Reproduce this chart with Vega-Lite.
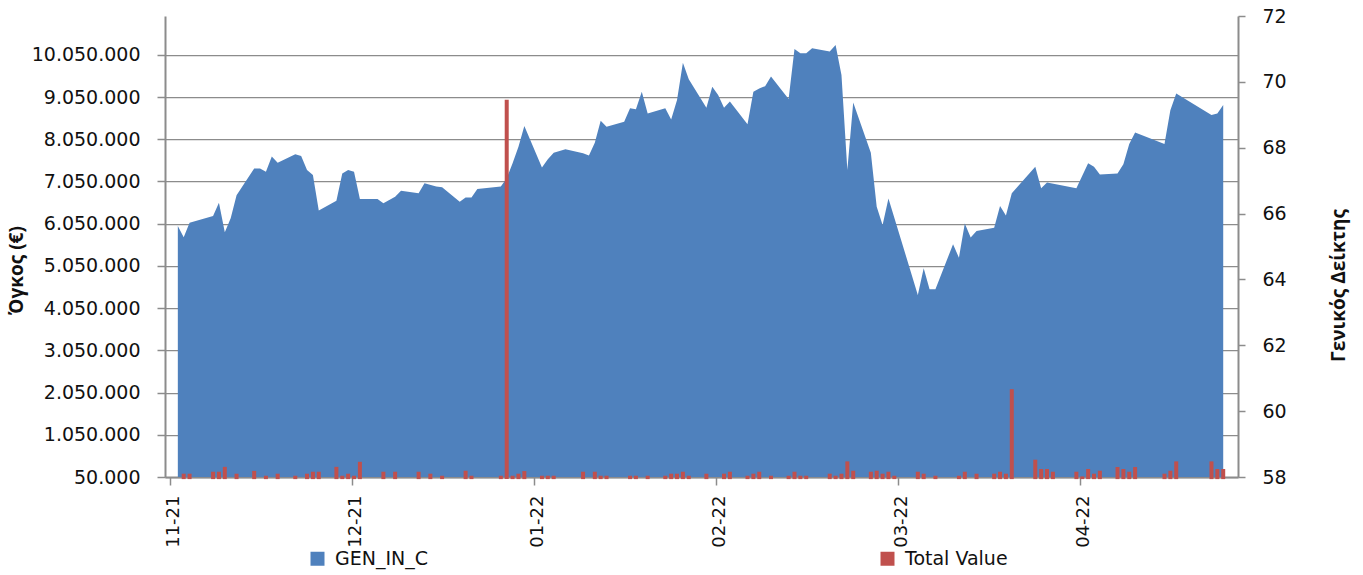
{
  "$schema": "https://vega.github.io/schema/vega-lite/v6.json",
  "width": 1073,
  "height": 461,
  "autosize": {"type": "none"},
  "padding": {"left": 165, "top": 16, "right": 125, "bottom": 98},
  "background": "white",
  "config": {
    "view": {"stroke": null},
    "locale": {"number": {"decimal": ",", "thousands": ".", "grouping": [3], "currency": ["", " €"]}},
    "font": "DejaVu Sans",
    "axis": {"labelFont": "DejaVu Sans", "labelColor": "#111111", "domainColor": "#8c8c8c", "tickColor": "#8c8c8c", "domainWidth": 2, "tickWidth": 1.5}
  },
  "data": {
    "format": {"parse": {"date": "utc:'%Y-%m-%d'"}},
    "values": [
      {"date": "2021-11-02", "GEN_IN_C": 65.62, "TotalValue": null},
      {"date": "2021-11-03", "GEN_IN_C": 65.28, "TotalValue": 128000},
      {"date": "2021-11-04", "GEN_IN_C": 65.72, "TotalValue": 128000},
      {"date": "2021-11-08", "GEN_IN_C": 65.93, "TotalValue": 175000},
      {"date": "2021-11-09", "GEN_IN_C": 66.33, "TotalValue": 175000},
      {"date": "2021-11-10", "GEN_IN_C": 65.43, "TotalValue": 290000},
      {"date": "2021-11-11", "GEN_IN_C": 65.86, "TotalValue": null},
      {"date": "2021-11-12", "GEN_IN_C": 66.56, "TotalValue": 128000},
      {"date": "2021-11-15", "GEN_IN_C": 67.37, "TotalValue": 195000},
      {"date": "2021-11-16", "GEN_IN_C": 67.37, "TotalValue": null},
      {"date": "2021-11-17", "GEN_IN_C": 67.27, "TotalValue": 80000},
      {"date": "2021-11-18", "GEN_IN_C": 67.73, "TotalValue": null},
      {"date": "2021-11-19", "GEN_IN_C": 67.54, "TotalValue": 128000},
      {"date": "2021-11-22", "GEN_IN_C": 67.80, "TotalValue": 80000},
      {"date": "2021-11-23", "GEN_IN_C": 67.75, "TotalValue": null},
      {"date": "2021-11-24", "GEN_IN_C": 67.32, "TotalValue": 128000},
      {"date": "2021-11-25", "GEN_IN_C": 67.17, "TotalValue": 175000},
      {"date": "2021-11-26", "GEN_IN_C": 66.09, "TotalValue": 175000},
      {"date": "2021-11-29", "GEN_IN_C": 66.39, "TotalValue": 290000},
      {"date": "2021-11-30", "GEN_IN_C": 67.22, "TotalValue": 80000},
      {"date": "2021-12-01", "GEN_IN_C": 67.32, "TotalValue": 128000},
      {"date": "2021-12-02", "GEN_IN_C": 67.27, "TotalValue": 80000},
      {"date": "2021-12-03", "GEN_IN_C": 66.44, "TotalValue": 410000},
      {"date": "2021-12-06", "GEN_IN_C": 66.44, "TotalValue": null},
      {"date": "2021-12-07", "GEN_IN_C": 66.31, "TotalValue": 175000},
      {"date": "2021-12-09", "GEN_IN_C": 66.51, "TotalValue": 175000},
      {"date": "2021-12-10", "GEN_IN_C": 66.69, "TotalValue": null},
      {"date": "2021-12-13", "GEN_IN_C": 66.62, "TotalValue": 175000},
      {"date": "2021-12-14", "GEN_IN_C": 66.92, "TotalValue": null},
      {"date": "2021-12-15", "GEN_IN_C": null, "TotalValue": 128000},
      {"date": "2021-12-16", "GEN_IN_C": 66.82, "TotalValue": null},
      {"date": "2021-12-17", "GEN_IN_C": 66.80, "TotalValue": 80000},
      {"date": "2021-12-20", "GEN_IN_C": 66.36, "TotalValue": null},
      {"date": "2021-12-21", "GEN_IN_C": 66.49, "TotalValue": 199000},
      {"date": "2021-12-22", "GEN_IN_C": 66.49, "TotalValue": 80000},
      {"date": "2021-12-23", "GEN_IN_C": 66.75, "TotalValue": null},
      {"date": "2021-12-27", "GEN_IN_C": 66.82, "TotalValue": 80000},
      {"date": "2021-12-28", "GEN_IN_C": 67.07, "TotalValue": 8986000},
      {"date": "2021-12-29", "GEN_IN_C": 67.53, "TotalValue": 80000},
      {"date": "2021-12-30", "GEN_IN_C": 68.03, "TotalValue": 128000},
      {"date": "2021-12-31", "GEN_IN_C": 68.66, "TotalValue": 190000},
      {"date": "2022-01-03", "GEN_IN_C": 67.40, "TotalValue": 80000},
      {"date": "2022-01-04", "GEN_IN_C": 67.65, "TotalValue": 80000},
      {"date": "2022-01-05", "GEN_IN_C": 67.85, "TotalValue": 80000},
      {"date": "2022-01-07", "GEN_IN_C": 67.95, "TotalValue": null},
      {"date": "2022-01-10", "GEN_IN_C": 67.83, "TotalValue": 175000},
      {"date": "2022-01-11", "GEN_IN_C": 67.76, "TotalValue": null},
      {"date": "2022-01-12", "GEN_IN_C": 68.15, "TotalValue": 175000},
      {"date": "2022-01-13", "GEN_IN_C": 68.82, "TotalValue": 80000},
      {"date": "2022-01-14", "GEN_IN_C": 68.64, "TotalValue": 80000},
      {"date": "2022-01-17", "GEN_IN_C": 68.79, "TotalValue": null},
      {"date": "2022-01-18", "GEN_IN_C": 69.20, "TotalValue": 80000},
      {"date": "2022-01-19", "GEN_IN_C": 69.17, "TotalValue": 80000},
      {"date": "2022-01-20", "GEN_IN_C": 69.70, "TotalValue": null},
      {"date": "2022-01-21", "GEN_IN_C": 69.04, "TotalValue": 80000},
      {"date": "2022-01-24", "GEN_IN_C": 69.20, "TotalValue": 80000},
      {"date": "2022-01-25", "GEN_IN_C": 68.86, "TotalValue": 128000},
      {"date": "2022-01-26", "GEN_IN_C": 69.45, "TotalValue": 128000},
      {"date": "2022-01-27", "GEN_IN_C": 70.58, "TotalValue": 175000},
      {"date": "2022-01-28", "GEN_IN_C": 70.08, "TotalValue": 80000},
      {"date": "2022-01-31", "GEN_IN_C": 69.21, "TotalValue": 128000},
      {"date": "2022-02-01", "GEN_IN_C": 69.85, "TotalValue": null},
      {"date": "2022-02-02", "GEN_IN_C": 69.60, "TotalValue": null},
      {"date": "2022-02-03", "GEN_IN_C": 69.21, "TotalValue": 128000},
      {"date": "2022-02-04", "GEN_IN_C": 69.40, "TotalValue": 175000},
      {"date": "2022-02-07", "GEN_IN_C": 68.71, "TotalValue": 80000},
      {"date": "2022-02-08", "GEN_IN_C": 69.70, "TotalValue": 128000},
      {"date": "2022-02-09", "GEN_IN_C": 69.80, "TotalValue": 175000},
      {"date": "2022-02-10", "GEN_IN_C": 69.87, "TotalValue": null},
      {"date": "2022-02-11", "GEN_IN_C": 70.16, "TotalValue": 80000},
      {"date": "2022-02-14", "GEN_IN_C": 69.48, "TotalValue": 80000},
      {"date": "2022-02-15", "GEN_IN_C": 71.00, "TotalValue": 175000},
      {"date": "2022-02-16", "GEN_IN_C": 70.87, "TotalValue": 80000},
      {"date": "2022-02-17", "GEN_IN_C": 70.87, "TotalValue": 80000},
      {"date": "2022-02-18", "GEN_IN_C": 71.02, "TotalValue": null},
      {"date": "2022-02-21", "GEN_IN_C": 70.92, "TotalValue": 128000},
      {"date": "2022-02-22", "GEN_IN_C": 71.12, "TotalValue": 80000},
      {"date": "2022-02-23", "GEN_IN_C": 70.21, "TotalValue": 128000},
      {"date": "2022-02-24", "GEN_IN_C": 67.32, "TotalValue": 420000},
      {"date": "2022-02-25", "GEN_IN_C": 69.37, "TotalValue": 199000},
      {"date": "2022-02-28", "GEN_IN_C": 67.85, "TotalValue": 175000},
      {"date": "2022-03-01", "GEN_IN_C": 66.21, "TotalValue": 199000},
      {"date": "2022-03-02", "GEN_IN_C": 65.65, "TotalValue": 128000},
      {"date": "2022-03-03", "GEN_IN_C": 66.46, "TotalValue": 175000},
      {"date": "2022-03-04", "GEN_IN_C": null, "TotalValue": 80000},
      {"date": "2022-03-08", "GEN_IN_C": 63.53, "TotalValue": 175000},
      {"date": "2022-03-09", "GEN_IN_C": 64.34, "TotalValue": 128000},
      {"date": "2022-03-10", "GEN_IN_C": 63.70, "TotalValue": null},
      {"date": "2022-03-11", "GEN_IN_C": 63.70, "TotalValue": 80000},
      {"date": "2022-03-14", "GEN_IN_C": 65.07, "TotalValue": null},
      {"date": "2022-03-15", "GEN_IN_C": 64.66, "TotalValue": 80000},
      {"date": "2022-03-16", "GEN_IN_C": 65.70, "TotalValue": 175000},
      {"date": "2022-03-17", "GEN_IN_C": 65.27, "TotalValue": null},
      {"date": "2022-03-18", "GEN_IN_C": 65.47, "TotalValue": 128000},
      {"date": "2022-03-21", "GEN_IN_C": 65.57, "TotalValue": 128000},
      {"date": "2022-03-22", "GEN_IN_C": 66.23, "TotalValue": 175000},
      {"date": "2022-03-23", "GEN_IN_C": 65.94, "TotalValue": 128000},
      {"date": "2022-03-24", "GEN_IN_C": 66.62, "TotalValue": 2130000},
      {"date": "2022-03-28", "GEN_IN_C": 67.42, "TotalValue": 460000},
      {"date": "2022-03-29", "GEN_IN_C": 66.77, "TotalValue": 240000},
      {"date": "2022-03-30", "GEN_IN_C": 66.94, "TotalValue": 240000},
      {"date": "2022-03-31", "GEN_IN_C": null, "TotalValue": 175000},
      {"date": "2022-04-04", "GEN_IN_C": 66.77, "TotalValue": 175000},
      {"date": "2022-04-05", "GEN_IN_C": null, "TotalValue": 65000},
      {"date": "2022-04-06", "GEN_IN_C": 67.53, "TotalValue": 240000},
      {"date": "2022-04-07", "GEN_IN_C": 67.42, "TotalValue": 128000},
      {"date": "2022-04-08", "GEN_IN_C": 67.19, "TotalValue": 199000},
      {"date": "2022-04-11", "GEN_IN_C": 67.22, "TotalValue": 286000},
      {"date": "2022-04-12", "GEN_IN_C": 67.50, "TotalValue": 240000},
      {"date": "2022-04-13", "GEN_IN_C": 68.11, "TotalValue": 175000},
      {"date": "2022-04-14", "GEN_IN_C": 68.46, "TotalValue": 286000},
      {"date": "2022-04-19", "GEN_IN_C": 68.11, "TotalValue": 128000},
      {"date": "2022-04-20", "GEN_IN_C": 69.14, "TotalValue": 199000},
      {"date": "2022-04-21", "GEN_IN_C": 69.65, "TotalValue": 420000},
      {"date": "2022-04-27", "GEN_IN_C": 68.99, "TotalValue": 420000},
      {"date": "2022-04-28", "GEN_IN_C": 69.04, "TotalValue": 240000},
      {"date": "2022-04-29", "GEN_IN_C": 69.30, "TotalValue": 240000}
    ]
  },
  "encoding": {
    "x": {
      "field": "date",
      "type": "temporal",
      "scale": {
        "type": "utc",
        "domain": [
          {"year": 2021, "month": 10, "date": 31, "hours": 16, "utc": true},
          {"year": 2022, "month": 4, "date": 30, "hours": 16, "utc": true}
        ]
      },
      "axis": {
        "title": null,
        "grid": false,
        "values": [
          {"year": 2021, "month": 10, "date": 31, "hours": 16, "utc": true},
          {"year": 2021, "month": 12, "date": 1, "hours": 16, "utc": true},
          {"year": 2022, "month": 1, "date": 1, "hours": 16, "utc": true},
          {"year": 2022, "month": 2, "date": 1, "hours": 16, "utc": true},
          {"year": 2022, "month": 3, "date": 4, "hours": 16, "utc": true},
          {"year": 2022, "month": 4, "date": 4, "hours": 16, "utc": true}
        ],
        "labelExpr": "utcFormat(datum.value + 28800000, '%m-%y')",
        "labelAngle": -90,
        "labelAlign": "right",
        "labelBaseline": "middle",
        "labelFontSize": 18,
        "labelPadding": 10,
        "labelOffset": 3,
        "labelFlush": false,
        "labelOverlap": false,
        "tickSize": 8
      }
    }
  },
  "layer": [
    {
      "transform": [{"filter": "isValid(datum.GEN_IN_C)"}],
      "mark": {"type": "area", "opacity": 1, "interpolate": "linear", "clip": true},
      "encoding": {
        "y": {
          "field": "GEN_IN_C",
          "type": "quantitative",
          "scale": {"domain": [58, 72], "zero": false, "nice": false},
          "axis": {
            "orient": "right",
            "values": [58, 60, 62, 64, 66, 68, 70, 72],
            "grid": false,
            "labelFontSize": 19,
            "tickSize": 7,
            "labelPadding": 17,
            "title": "Γενικός Δείκτης",
            "titleFont": "Open Sans",
            "titleFontWeight": "bold",
            "titleFontSize": 19,
            "titleColor": "#111111",
            "titleAngle": -90,
            "titleAlign": "center",
            "titleBaseline": "middle",
            "titleX": 100,
            "titleY": 269
          }
        },
        "y2": {"datum": 58},
        "color": {
          "datum": "GEN_IN_C",
          "scale": {"domain": ["GEN_IN_C", "Total Value"], "range": ["#4F81BD", "#C0504D"]},
          "legend": {
            "title": null,
            "orient": "none",
            "direction": "horizontal",
            "legendX": 143,
            "legendY": 533,
            "padding": 0,
            "columnPadding": 449,
            "symbolType": "square",
            "symbolSize": 196,
            "symbolStrokeWidth": 0,
            "symbolOpacity": 1,
            "labelFont": "DejaVu Sans",
            "labelFontSize": 19,
            "labelColor": "#111111",
            "labelOffset": 8
          }
        }
      }
    },
    {
      "mark": {"type": "bar", "size": 4, "opacity": 1},
      "encoding": {
        "y": {
          "field": "TotalValue",
          "type": "quantitative",
          "scale": {"domain": [50000, 10970000], "zero": false, "nice": false},
          "axis": {
            "orient": "left",
            "values": [50000, 1050000, 2050000, 3050000, 4050000, 5050000, 6050000, 7050000, 8050000, 9050000, 10050000],
            "format": ",d",
            "grid": true,
            "gridColor": "#8c8c8c",
            "gridWidth": 1.25,
            "labelFontSize": 19,
            "tickSize": 8,
            "labelPadding": 17,
            "title": "Όγκος (€)",
            "titleFont": "Open Sans",
            "titleFontWeight": "bold",
            "titleFontSize": 19,
            "titleColor": "#111111",
            "titleAngle": -90,
            "titleAlign": "center",
            "titleBaseline": "middle",
            "titleX": -149,
            "titleY": 254
          }
        },
        "color": {"datum": "Total Value"}
      }
    }
  ],
  "resolve": {"scale": {"y": "independent"}}
}
